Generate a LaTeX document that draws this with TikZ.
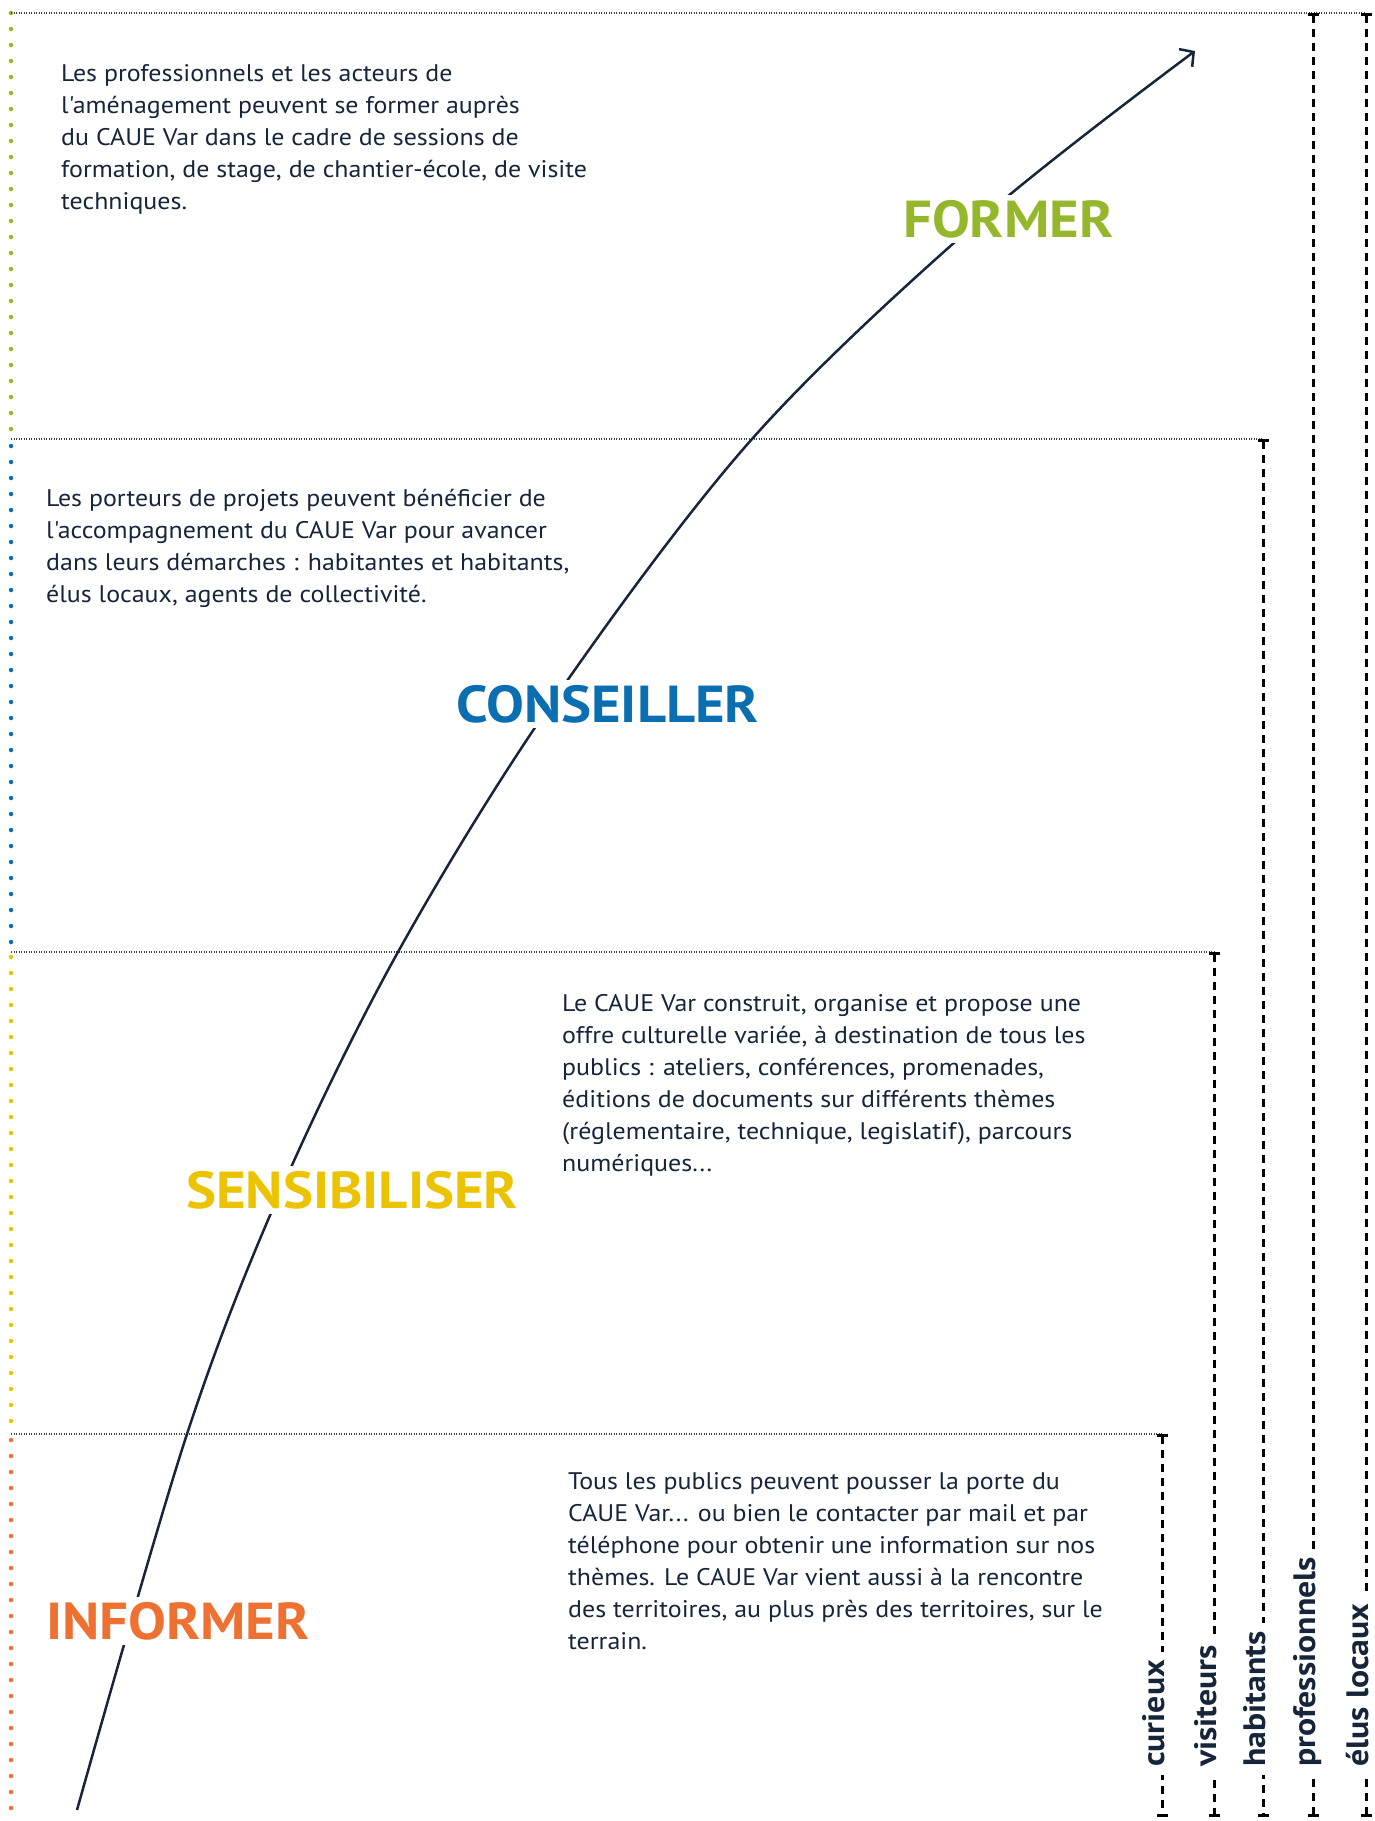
\documentclass[tikz,border=0pt]{standalone}
\usepackage{fontspec}
\setmainfont{PT Sans}
\usetikzlibrary{arrows.meta}
\definecolor{navy}{HTML}{17253B}
\definecolor{cgreen}{HTML}{95B72B}
\definecolor{cblue}{HTML}{0B6EB1}
\definecolor{cyellow}{HTML}{EBC300}
\definecolor{corange}{HTML}{EE7131}
\newfontfamily\wideface[FakeStretch=1.08]{PT Sans}
\newfontfamily\wideboldface[FakeStretch=1.09]{PT Sans Bold}
\begin{document}
\begin{tikzpicture}[x=1pt,y=-1pt,
  body/.style={anchor=base west, align=left, inner sep=0pt, text=navy,
    font=\wideface\fontsize{24}{32}\selectfont},
  heading/.style={anchor=base west, inner xsep=2pt, inner ysep=6pt, fill=white,
    font=\wideboldface\fontsize{52}{52}\selectfont, text height=36pt, text depth=0pt},
  sepline/.style={dash pattern=on 1pt off 1.5pt, line width=1.1pt, draw=black!75},
  colordots/.style={line width=4.5pt, line cap=round, dash pattern=on 0pt off 16pt},
  audline/.style={draw=black, line width=3pt, dash pattern=on 8pt off 6pt,
    {Bar[width=11pt]}-{Bar[width=11pt]}},
  audlabel/.style={rotate=90, anchor=mid west, fill=white, inner xsep=8pt, inner ysep=2pt,
    text=navy, font=\wideboldface\fontsize{31}{31}\selectfont},
  curve/.style={draw=navy, line width=2.5pt, -{Straight Barb[length=10pt,width=22pt]}}
]
\useasboundingbox (0,0) rectangle (1375,1821);

% left coloured dotted band
\draw[colordots, cgreen] (11,13) -- (11,433);
\draw[colordots, cblue] (11,446) -- (11,943);
\draw[colordots, cyellow] (11,957) -- (11,1428);
\draw[colordots, corange] (11,1440) -- (11,1821);

% coordinates
\coordinate (s1a) at (11,13);   \coordinate (s1b) at (1366,13);
\coordinate (s2a) at (11,439);  \coordinate (s2b) at (1263,439);
\coordinate (s3a) at (11,952);  \coordinate (s3b) at (1214,952);
\coordinate (s4a) at (11,1434); \coordinate (s4b) at (1162,1434);

\draw[sepline] (s1a) -- (s1b);
\draw[sepline] (s2a) -- (s2b);
\draw[sepline] (s3a) -- (s3b);
\draw[sepline] (s4a) -- (s4b);

% audience lines
\coordinate (c1) at (1162,1817);
\coordinate (c2) at (1214,1817);
\coordinate (c3) at (1263,1817);
\coordinate (c4) at (1313,1817);
\coordinate (c5) at (1366,1817);
\coordinate (t4) at (1313,13);
\coordinate (t5) at (1366,13);
\draw[audline] (s4b) -- (c1);
\draw[audline] (s3b) -- (c2);
\draw[audline] (s2b) -- (c3);
\draw[audline] (t4) -- (c4);
\draw[audline] (t5) -- (c5);
\node[audlabel] (lcur) at (1162,1775) {curieux};
\node[audlabel] (lvis) at (1214,1775) {visiteurs};
\node[audlabel] (lhab) at (1263,1775) {habitants};
\node[audlabel] (lpro) at (1313,1775) {professionnels};
\node[audlabel] (lelu) at (1366,1775) {élus locaux};

% curve
\draw[curve] plot[smooth, tension=0.55] coordinates
  {(77,1810) (187,1434) (281,1190) (398,952) (551,704) (752,439) (981,219) (1195,51)};

% headings
\node[heading, text=cgreen] (hfor) at (901,237) {FORMER};
\node[heading, text=cblue] (hcon) at (454,722) {CONSEILLER};
\node[heading, text=cyellow] (hsen) at (184,1208) {SENSIBILISER};
\node[heading, text=corange] (hinf) at (44,1639) {INFORMER};

% texts (base anchor = baseline of last line)
\node[body] (t1) at (61,209) {Les professionnels et les acteurs de\\l'aménagement peuvent se former auprès\\du CAUE Var dans le cadre de sessions de\\formation, de stage, de chantier-école, de visite\\techniques.};
\node[body] (t2) at (46,602.5) {Les porteurs de projets peuvent bénéficier de\\l'accompagnement du CAUE Var pour avancer\\dans leurs démarches : habitantes et habitants,\\élus locaux, agents de collectivité.};
\node[body] (t3) at (562,1171.5) {Le CAUE Var construit, organise et propose une\\offre culturelle variée, à destination de tous les\\publics : ateliers, conférences, promenades,\\éditions de documents sur différents thèmes\\(réglementaire, technique, legislatif), parcours\\numériques...};
\node[body] (t4) at (568,1649.5) {Tous les publics peuvent pousser la porte du\\CAUE Var... ou bien le contacter par mail et par\\téléphone pour obtenir une information sur nos\\thèmes. Le CAUE Var vient aussi à la rencontre\\des territoires, au plus près des territoires, sur le\\terrain.};
\end{tikzpicture}
\end{document}
